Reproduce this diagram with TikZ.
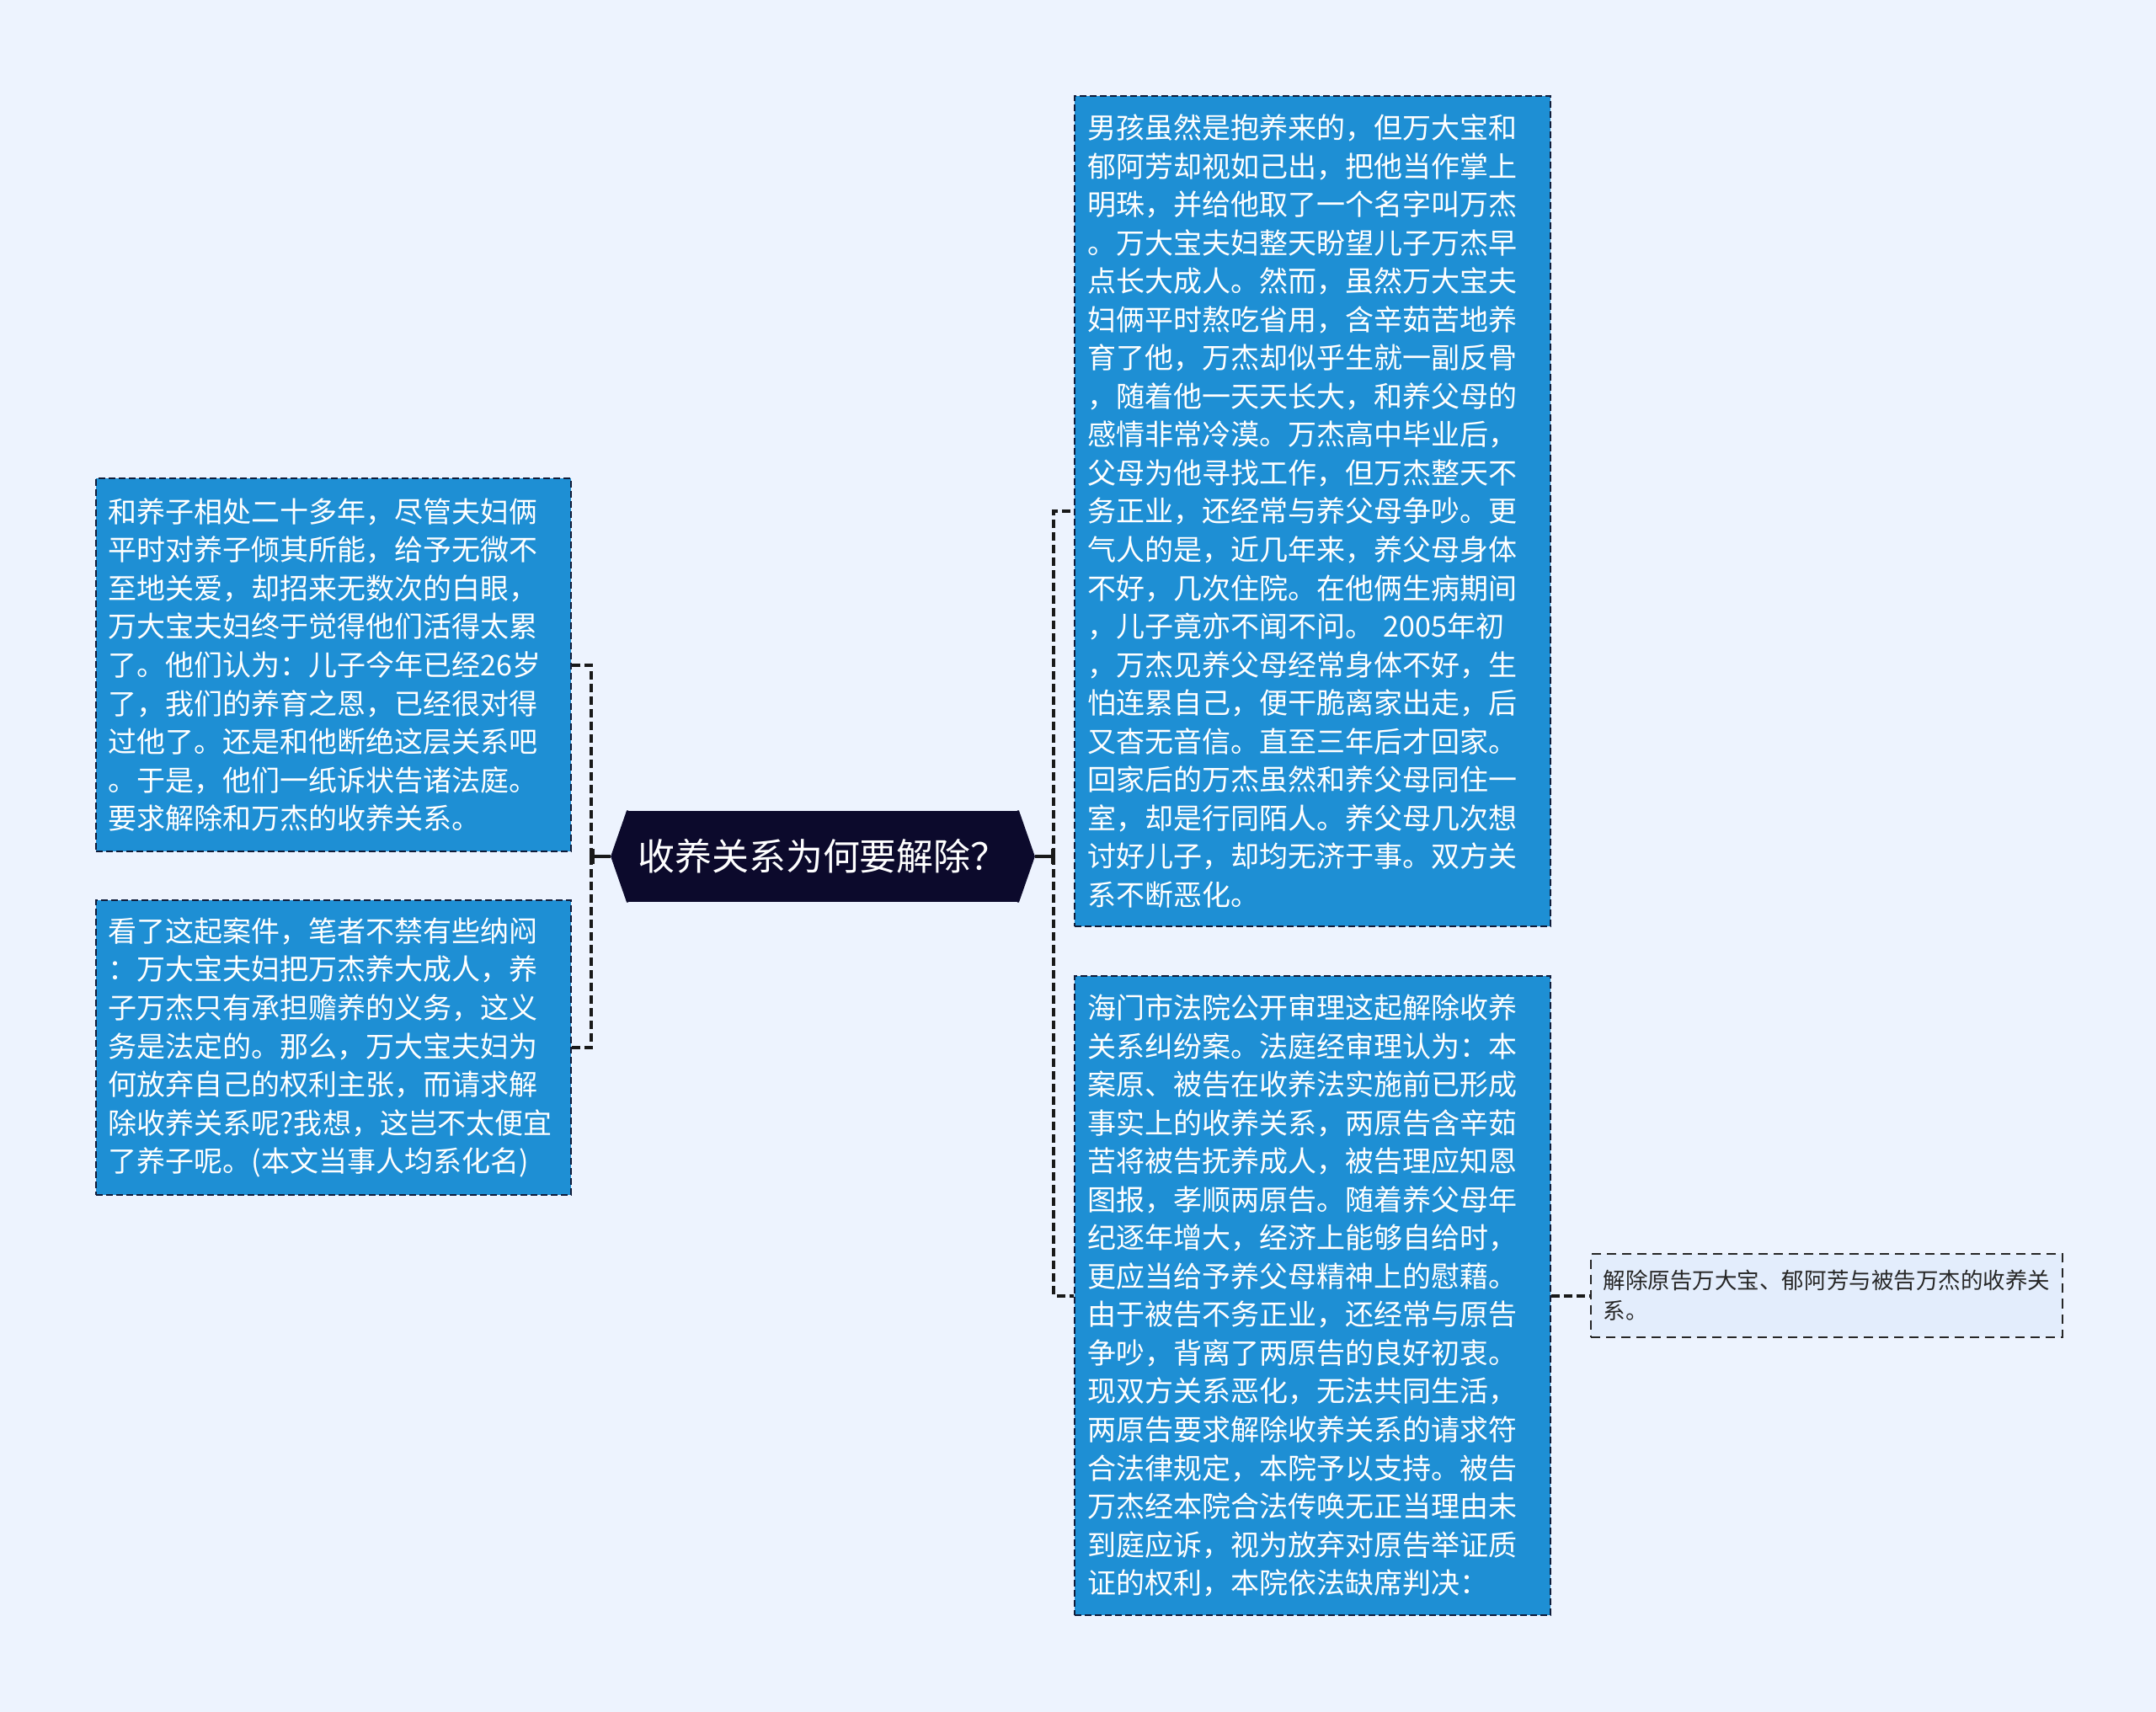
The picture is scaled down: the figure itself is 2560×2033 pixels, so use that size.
\documentclass[tikz,border=0pt]{standalone}
\usepackage{fontspec}
\setmainfont{Noto Sans CJK SC}
\usepackage{tikz}
\usetikzlibrary{arrows.meta}
\definecolor{bgcol}{RGB}{237,243,254}
\definecolor{boxblue}{RGB}{30,143,212}
\definecolor{boxline}{RGB}{16,28,58}
\definecolor{hexcol}{RGB}{12,10,44}
\definecolor{leafcol}{RGB}{227,237,252}
\tikzset{
  txtbox/.style={rectangle,fill=boxblue,draw=boxline,line width=0.02cm,dash pattern=on 0.08cm off 0.04cm,
    text=white,align=left,inner xsep=0.15cm,text width=5.34cm,font=\fontsize{9.67pt}{12.95pt}\selectfont},
  leafbox/.style={rectangle,fill=leafcol,draw=black!85,line width=0.02cm,dash pattern=on 0.11cm off 0.07cm,
    text=black!85,align=left,inner xsep=0.15cm,text width=5.30cm,minimum height=0.98cm,font=\fontsize{7.54pt}{10.2pt}\selectfont},
  hexa/.style={rectangle,fill=hexcol,text=white,inner xsep=0.1cm,minimum width=4.64cm,minimum height=1.08cm,font=\fontsize{12.5pt}{15pt}\selectfont},
  conn/.style={draw=black!90,line width=0.04cm,dash pattern=on 0.1cm off 0.05cm},
  stem/.style={draw=black!90,line width=0.035cm,-{Bar[width=0.18cm]}}
}
\begin{document}
\begin{tikzpicture}[x=0.01cm,y=-0.01cm] % 1 unit = 1 px, y downwards
\fill[bgcol] (0,0) rectangle (2560,2033);
% centre
\node[hexa] (root) at (977,1017) {收养关系为何要解除？};
\fill[hexcol] ([xshift=0.02cm]root.north west) -- (root.north west) -- ([xshift=-0.19cm]root.west) coordinate (tipL)
  -- (root.south west) -- ([xshift=0.02cm]root.south west) -- cycle;
\fill[hexcol] ([xshift=-0.02cm]root.north east) -- (root.north east) -- ([xshift=0.19cm]root.east) coordinate (tipR)
  -- (root.south east) -- ([xshift=-0.02cm]root.south east) -- cycle;
% left side
\node[txtbox,minimum height=4.43cm] (L1) at (396,789.5) {和养子相处二十多年，尽管夫妇俩\\平时对养子倾其所能，给予无微不\\至地关爱，却招来无数次的白眼，\\万大宝夫妇终于觉得他们活得太累\\了。他们认为：儿子今年已经26岁\\了，我们的养育之恩，已经很对得\\过他了。还是和他断绝这层关系吧\\。于是，他们一纸诉状告诸法庭。\\要求解除和万杰的收养关系。};
\node[txtbox,minimum height=3.50cm] (L2) at (396,1244) {看了这起案件，笔者不禁有些纳闷\\：万大宝夫妇把万杰养大成人，养\\子万杰只有承担赡养的义务，这义\\务是法定的。那么，万大宝夫妇为\\何放弃自己的权利主张，而请求解\\除收养关系呢?我想，这岂不太便宜\\了养子呢。(本文当事人均系化名)};
% right side
\node[txtbox,minimum height=9.86cm] (R1) at (1558.5,607) {男孩虽然是抱养来的，但万大宝和\\郁阿芳却视如己出，把他当作掌上\\明珠，并给他取了一个名字叫万杰\\。万大宝夫妇整天盼望儿子万杰早\\点长大成人。然而，虽然万大宝夫\\妇俩平时熬吃省用，含辛茹苦地养\\育了他，万杰却似乎生就一副反骨\\，随着他一天天长大，和养父母的\\感情非常冷漠。万杰高中毕业后，\\父母为他寻找工作，但万杰整天不\\务正业，还经常与养父母争吵。更\\气人的是，近几年来，养父母身体\\不好，几次住院。在他俩生病期间\\，儿子竟亦不闻不问。 2005年初\\，万杰见养父母经常身体不好，生\\怕连累自己，便干脆离家出走，后\\又杳无音信。直至三年后才回家。\\回家后的万杰虽然和养父母同住一\\室，却是行同陌人。养父母几次想\\讨好儿子，却均无济于事。双方关\\系不断恶化。};
\node[txtbox,minimum height=7.59cm] (R2) at (1558.5,1538.5) {海门市法院公开审理这起解除收养\\关系纠纷案。法庭经审理认为：本\\案原、被告在收养法实施前已形成\\事实上的收养关系，两原告含辛茹\\苦将被告抚养成人，被告理应知恩\\图报，孝顺两原告。随着养父母年\\纪逐年增大，经济上能够自给时，\\更应当给予养父母精神上的慰藉。\\由于被告不务正业，还经常与原告\\争吵，背离了两原告的良好初衷。\\现双方关系恶化，无法共同生活，\\两原告要求解除收养关系的请求符\\合法律规定，本院予以支持。被告\\万杰经本院合法传唤无正当理由未\\到庭应诉，视为放弃对原告举证质\\证的权利，本院依法缺席判决：};
\node[leafbox] (S1) at (2169,1538.5) {解除原告万大宝、郁阿芳与被告万杰的收养关\\系。};
% connectors
\coordinate (jl) at (702,1017);\coordinate (jr) at (1251,1017);
\draw[stem] (tipL) -- (jl);\draw[stem] (tipR) -- (jr);
\draw[conn] (jl) |- (L1.east);\draw[conn] (jl) |- (L2.east);
\draw[conn] (jr) |- (R1.west);\draw[conn] (jr) |- (R2.west);
\draw[conn] (R2.east) -- (S1.west);
\end{tikzpicture}
\end{document}
